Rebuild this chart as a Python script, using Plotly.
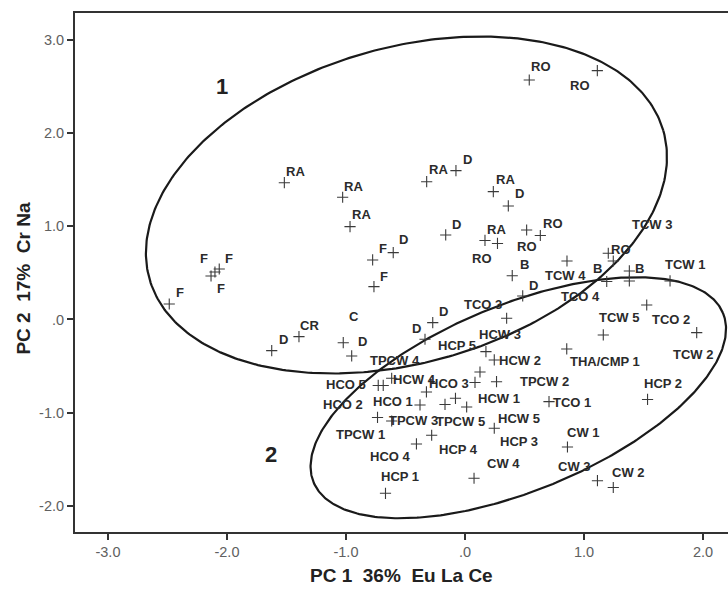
import numpy as np
import plotly.graph_objects as go

# ---- data (PC scores) ----
labels = ["RO", "RO", "RA", "RA", "RA", "F", "D", "F", "C", "D",
          "CR", "D", "F", "F", "F", "F", "RA", "D", "RA", "D",
          "D", "RA", "RO", "RO", "RO", "B", "D", "TCO 3", "D", "D",
          "TCW 4", "RO", "TCW 3", "B", "B", "TCO 4", "TCW 1", "TCO 2", "TCW 2", "TCW 5",
          "THA/CMP 1", "HCP 2", "HCW 2", "HCW 3", "HCP 5", "TPCW 2", "HCW 1", "HCP 3", "HCW 5", "CW 4",
          "TCO 1", "CW 1", "CW 3", "CW 2", "HCW 4", "HCO 2", "HCO 5", "TPCW 4", "HCO 1", "HCO 3",
          "TPCW 5", "TPCW 1", "TPCW 3", "HCP 4", "HCO 4", "HCP 1"]
pc1 = [0.540, 1.112, -1.518, -1.028, -0.966, -0.776, -0.603, -0.765, -1.023, -0.952,
       -1.395, -1.624, -2.485, -2.101, -2.065, -2.134, -0.322, -0.076, 0.238, 0.364,
       -0.162, 0.168, 0.273, 0.518, 0.633, 0.397, 0.485, 0.350, -0.271, -0.336,
       0.857, 1.204, 1.246, 1.191, 1.381, 1.381, 1.723, 1.527, 1.947, 1.162,
       0.855, 1.534, 0.246, 0.176, 0.126, 0.265, 0.014, 0.084, 0.246, 0.076,
       0.706, 0.861, 1.113, 1.246, -0.616, -0.729, -0.687, -0.324, -0.378, -0.080,
       -0.168, -0.735, -0.616, -0.280, -0.408, -0.668]
pc2 = [2.567, 2.667, 1.466, 1.310, 0.995, 0.638, 0.716, 0.352, -0.249, -0.391,
       -0.184, -0.334, 0.166, 0.509, 0.541, 0.466, 1.477, 1.595, 1.370, 1.217,
       0.906, 0.847, 0.815, 0.959, 0.900, 0.469, 0.252, 0.013, -0.034, -0.212,
       0.627, 0.710, 0.627, 0.407, 0.520, 0.413, 0.413, 0.155, -0.141, -0.166,
       -0.316, -0.857, -0.434, -0.345, -0.563, -0.667, -0.938, -0.675, -1.166, -1.702,
       -0.881, -1.367, -1.728, -1.801, -0.630, -0.707, -0.707, -0.777, -0.916, -0.845,
       -0.911, -1.050, -1.088, -1.241, -1.334, -1.863]

x_ticks = [-3, -2, -1, 0, 1, 2]
x_tick_text = ["-3.0", "-2.0", "-1.0", ".0", "1.0", "2.0"]
y_ticks = [-2, -1, 0, 1, 2, 3]
y_tick_text = ["-2.0", "-1.0", ".0", "1.0", "2.0", "3.0"]

# group ellipses: centre and two conjugate half-axis vectors (data units)
ellipse_1 = {"name": "1", "centre": (-0.492, 1.227), "u": (2.158, 0.799), "v": (-0.369, 1.620)}
ellipse_2 = {"name": "2", "centre": (0.448, -0.839), "u": (1.720, 0.907), "v": (-0.298, 0.920)}
group_label_pos = {"1": (-2.042, 2.492), "2": (-1.630, -1.452)}

# ---- label placement (pixel offsets from each point; right, down) ----
label_offsets = [(12, -13), (-17, 15), (11, -11), (11, -11), (11, -12), (10, -11), (10, -13), (10, -10), (11, -26), (11, -14),
                 (11, -11), (12, -11), (11, -11), (-11, -13), (10, -11), (10, 12), (12, -12), (12, -11), (12, -12), (11, -12),
                 (11, -10), (12, -11), (-15, 15), (0, 16), (13, -12), (12, -11), (11, -10), (-24, -14), (11, -11), (-9, -11),
                 (-1, 15), (13, -4), (39, -36), (-9, -13), (10, -2), (-49, 16), (15, -16), (24, 14), (-4, 22), (16, -17),
                 (38, 13), (15, -16), (26, 1), (14, -17), (-23, -27), (48, 0), (32, -8), (44, 59), (25, -10), (29, -15),
                 (23, 1), (16, -15), (-23, -14), (15, -15), (23, 1), (-35, 19), (-37, -1), (-31, -31), (-27, -3), (-6, -15),
                 (15, 17), (-17, 17), (22, 0), (27, 14), (-26, 13), (15, -17)]

ink = "#2b2b2b"
font_family = "Liberation Sans, Arial, sans-serif"
fig = go.Figure()

t = np.linspace(0, 2 * np.pi, 400)
for e in (ellipse_1, ellipse_2):
    cx, cy = e["centre"]
    ex = cx + e["u"][0] * np.cos(t) + e["v"][0] * np.sin(t)
    ey = cy + e["u"][1] * np.cos(t) + e["v"][1] * np.sin(t)
    fig.add_trace(go.Scatter(x=ex, y=ey, mode="lines", line=dict(color="#1a1a1a", width=2.2),
                             hoverinfo="skip", showlegend=False))

fig.add_trace(go.Scatter(
    x=pc1, y=pc2, mode="markers", text=labels, showlegend=False,
    marker=dict(symbol="cross-thin", size=8, line=dict(color="#3a3a3a", width=1.1)),
))

annotations = []
for xv, yv, lab, (dx, dy) in zip(pc1, pc2, labels, label_offsets):
    annotations.append(dict(x=xv, y=yv, xref="x", yref="y", text=lab, showarrow=False,
                            xanchor="center", yanchor="middle", xshift=dx, yshift=-dy,
                            font=dict(family=font_family, size=13, color=ink, weight="bold")))
for name, (gx, gy) in group_label_pos.items():
    annotations.append(dict(x=gx, y=gy, xref="x", yref="y", text=name, showarrow=False,
                            xanchor="center", yanchor="middle",
                            font=dict(family=font_family, size=22, color="#222222", weight="bold")))
annotations.append(dict(x=0.5, y=-0.083, xref="paper", yref="paper", text="PC 1  36%  Eu La Ce",
                        showarrow=False, xanchor="center", yanchor="middle",
                        font=dict(family=font_family, size=19, color="#222222", weight="bold")))
annotations.append(dict(x=-0.079, y=0.489, xref="paper", yref="paper", text="PC 2  17%  Cr Na",
                        showarrow=False, xanchor="center", yanchor="middle", textangle=-90,
                        font=dict(family=font_family, size=19, color="#222222", weight="bold")))

axis_common = dict(showgrid=False, zeroline=False, showline=True, linewidth=2, linecolor="#333333",
                   ticks="outside", ticklen=6, tickwidth=1.5, tickcolor="#333333",
                   tickfont=dict(family=font_family, size=14.5, color="#606060"))

fig.update_layout(
    width=728, height=592,
    margin=dict(l=75, r=0, t=13, b=60),
    paper_bgcolor="white", plot_bgcolor="white",
    xaxis=dict(range=[-3.277, 2.210], tickvals=x_ticks, ticktext=x_tick_text, mirror=True, **axis_common),
    yaxis=dict(range=[-2.278, 3.285], tickvals=y_ticks, ticktext=y_tick_text, mirror=False, **axis_common),
    annotations=annotations,
)

fig.write_html("out.html", config={"displayModeBar": False},
               post_script="document.body.style.margin='0px'; document.body.style.overflow='hidden';")
